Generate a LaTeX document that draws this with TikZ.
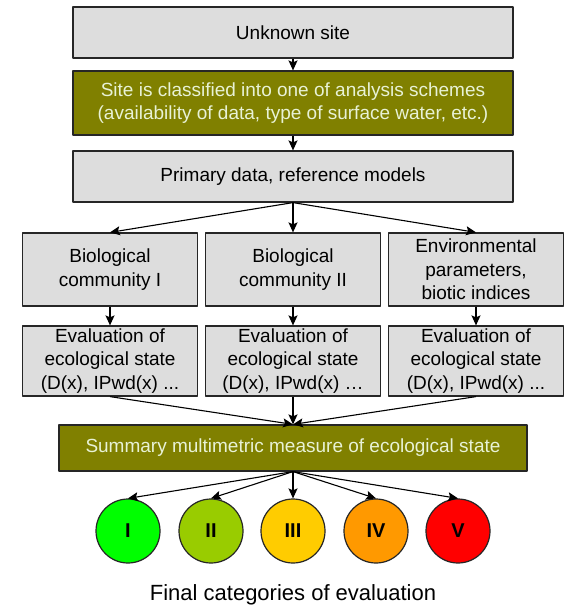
\documentclass[tikz,border=0pt]{standalone}
\usepackage{fontspec}
\setmainfont{Liberation Sans}
\usetikzlibrary{arrows.meta}
\definecolor{boxgrey}{RGB}{221,221,221}
\definecolor{olivefill}{RGB}{128,128,0}
\definecolor{olivetext}{RGB}{232,242,214}
\definecolor{catI}{RGB}{0,255,0}
\definecolor{catII}{RGB}{153,204,0}
\definecolor{catIII}{RGB}{255,204,0}
\definecolor{catIV}{RGB}{255,153,0}
\definecolor{catV}{RGB}{255,0,0}
\tikzset{
	greybox/.style={draw=black!85, fill=boxgrey, line width=1.2pt, inner sep=0pt, align=center},
	olivebox/.style={greybox, fill=olivefill, text=olivetext},
	catnode/.style={circle, draw=black!85, line width=1.2pt, minimum size=64pt, inner sep=0pt,
		font=\fontsize{20}{24}\selectfont\bfseries},
	link/.style={->, line width=1.1pt},
}
\begin{document}
\begin{tikzpicture}[x=1pt, y=-1pt, >={Stealth[length=10pt,width=9pt,inset=2pt]},
	font=\fontsize{19}{23.5}\selectfont, line join=round]
	\useasboundingbox (0,0) rectangle (565,606);
	% top column
	\node[greybox, minimum width=440pt, minimum height=51pt] (unknown) at (293,32.5) {Unknown site};
	\node[olivebox, minimum width=440pt, minimum height=64pt] (classify) at (293,103)
		{Site is classified into one of analysis schemes\\(availability of data, type of surface water, etc.)};
	\node[greybox, minimum width=440pt, minimum height=51pt] (primary) at (293,176.5) {Primary data, reference models};
	% three branches
	\node[greybox, minimum width=175pt, minimum height=73pt] (bioA) at (110,269.5) {Biological\\community I};
	\node[greybox, minimum width=175pt, minimum height=73pt] (bioB) at (293,269.5) {Biological\\community II};
	\node[greybox, minimum width=175pt, minimum height=73pt] (envir) at (476,269.5) {Environmental\\parameters,\\biotic indices};
	\node[greybox, minimum width=175pt, minimum height=70pt] (evalA) at (110,361) {Evaluation of\\ecological state\\(D(x), IPwd(x) ...};
	\node[greybox, minimum width=175pt, minimum height=70pt] (evalB) at (293,361) {Evaluation of\\ecological state\\(D(x), IPwd(x) …};
	\node[greybox, minimum width=175pt, minimum height=70pt] (evalC) at (476,361) {Evaluation of\\ecological state\\(D(x), IPwd(x) ...};
	\node[olivebox, minimum width=468pt, minimum height=46pt] (summary) at (293,448) {Summary multimetric measure of ecological state};
	% categories
	\foreach \n/\x in {I/128, II/211, III/293, IV/376, V/458}
		\node[catnode, fill=cat\n] (cat\n) at (\x,531) {\n};
	\node[font=\fontsize{22}{26}\selectfont, anchor=base] (caption) at (293,600) {Final categories of evaluation};
	% connectors
	\draw[link] (unknown) -- (classify);
	\draw[link] (classify) -- (primary);
	\foreach \b in {bioA, bioB, envir}
		\draw[link] (primary.south) -- (\b.north);
	\draw[link] (bioA) -- (evalA);
	\draw[link] (bioB) -- (evalB);
	\draw[link] (envir) -- (evalC);
	\foreach \e in {evalA, evalB, evalC}
		\draw[link] (\e.south) -- (summary.north);
	\foreach \n in {I, II, III, IV, V}
		\draw[link] (summary.south) -- (cat\n.north);
\end{tikzpicture}
\end{document}
